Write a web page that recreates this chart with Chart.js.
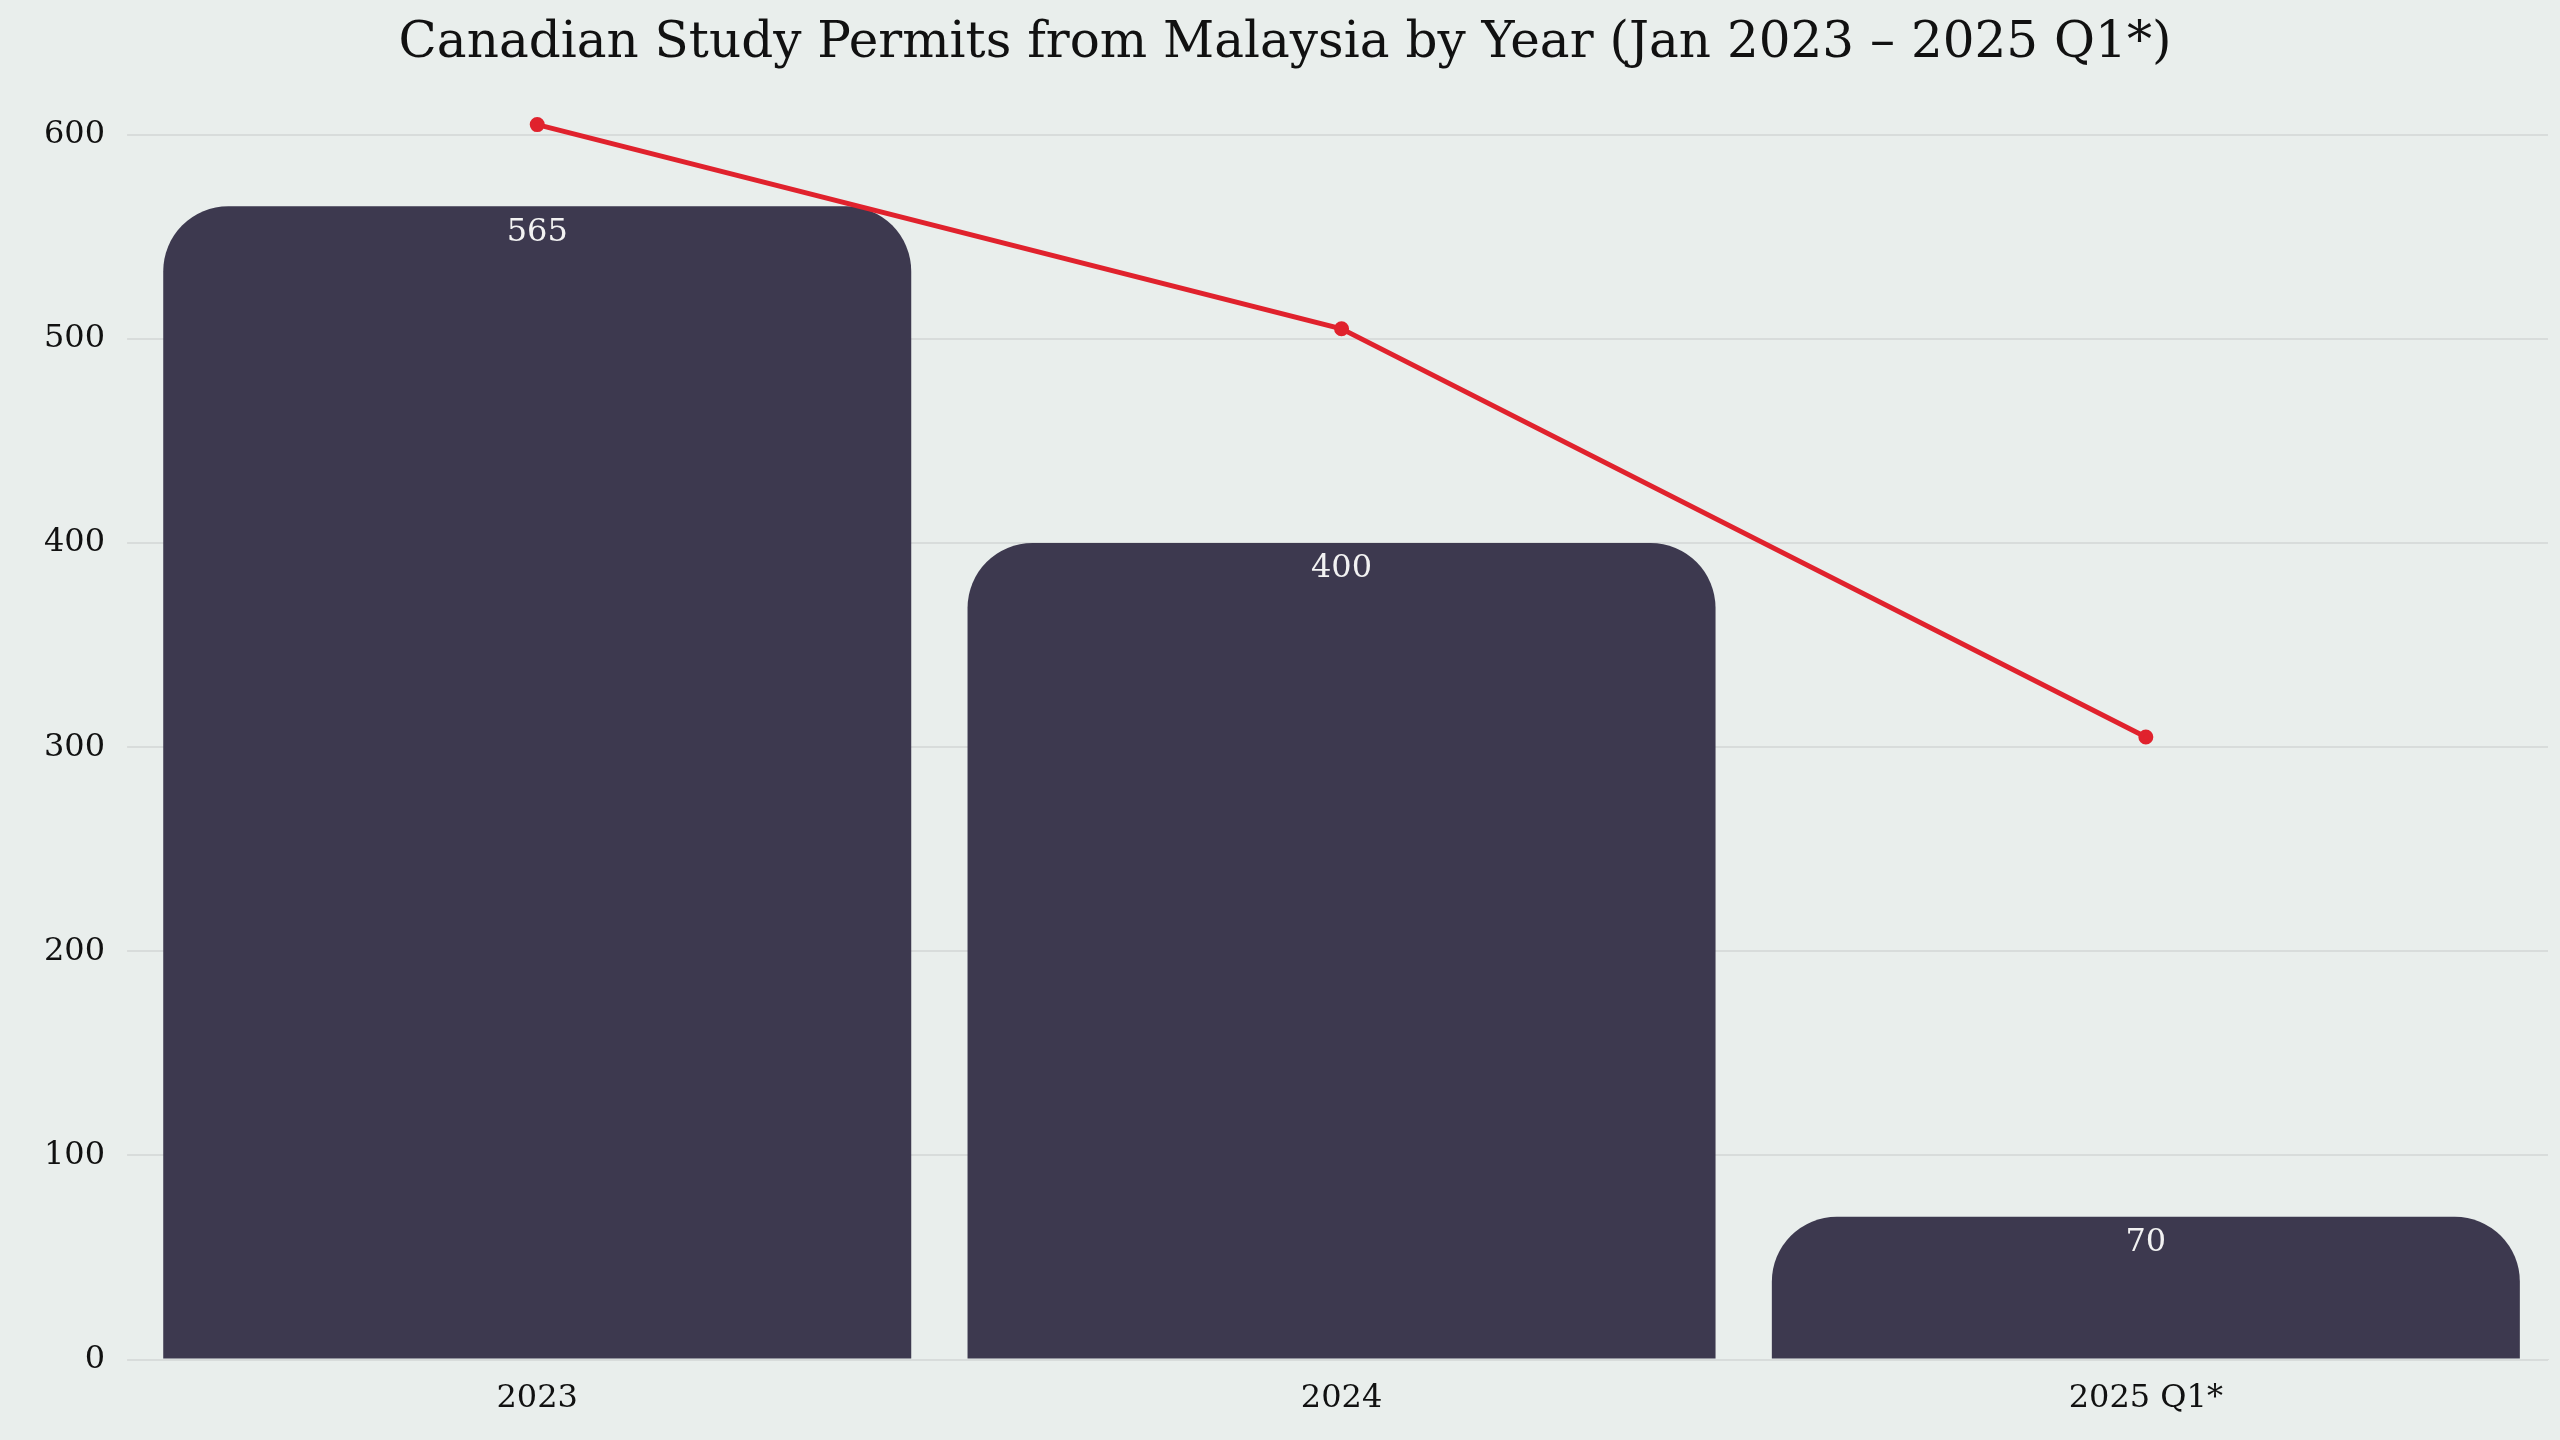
<!DOCTYPE html>
<html>
<head>
<meta charset="utf-8">
<script src="https://cdn.jsdelivr.net/npm/chart.js@4"></script>
<style>
  html, body { margin: 0; padding: 0; background: #e9eeec; }
  #wrap { width: 2560px; height: 1440px; }
</style>
</head>
<body>
<div id="wrap"><canvas id="permitChart"></canvas></div>
<script>
// data
const years = ['2023', '2024', '2025 Q1*'];
const permits = [565, 400, 70];
const trend = [605, 505, 305];
const yTicks = [0, 100, 200, 300, 400, 500, 600];

const serif = "'DejaVu Serif', 'Liberation Serif', serif";

// value labels inside top of each bar
const barLabels = {
  id: 'barLabels',
  afterDatasetsDraw(chart) {
    const ctx = chart.ctx;
    const meta = chart.getDatasetMeta(1);
    ctx.save();
    ctx.fillStyle = '#f2f2f2';
    ctx.font = "32px " + serif;
    ctx.textAlign = 'center';
    ctx.textBaseline = 'top';
    meta.data.forEach((bar, i) => {
      ctx.fillText(permits[i], bar.x, bar.y + 10);
    });
    ctx.restore();
  }
};

var permitChart = document.getElementById("permitChart");
const chart = new Chart(permitChart, {
  data: {
    labels: years,
    datasets: [{
      type: 'line',
      data: trend,
      borderColor: '#e0222d',
      backgroundColor: '#e0222d',
      borderWidth: 5,
      pointRadius: 5,
      tension: 0,
      clip: false,
      order: 0
    }, {
      type: 'bar',
      data: permits,
      backgroundColor: '#3d394f',
      borderRadius: { topLeft: 65, topRight: 65 },
      borderSkipped: 'bottom',
      categoryPercentage: 0.93,
      barPercentage: 1,
      order: 1
    }]
  },
  options: {
    responsive: true,
    maintainAspectRatio: false,
    devicePixelRatio: 1,
    animation: false,
    layout: { padding: { left: 22, right: 12, top: 0, bottom: 10 } },
    plugins: {
      legend: { display: false },
      tooltip: { enabled: false },
      title: {
        display: true,
        text: 'Canadian Study Permits from Malaysia by Year (Jan 2023 \u2013 2025 Q1*)',
        color: '#111',
        font: { family: serif, size: 50, weight: 'normal' },
        padding: { top: 14, bottom: 20 }
      }
    },
    scales: {
      x: {
        grid: { display: false },
        border: { display: true, color: '#d8dcdb' },
        ticks: { color: '#111', font: { family: serif, size: 32 }, padding: 12 }
      },
      y: {
        min: 0,
        max: 620,
        afterBuildTicks(axis) { axis.ticks = yTicks.map(v => ({ value: v })); },
        grid: { color: '#d8dcdb', lineWidth: 2 },
        border: { display: false },
        ticks: { color: '#111', font: { family: serif, size: 32 }, padding: 22 }
      }
    }
  },
  plugins: [barLabels]
});
</script>
</body>
</html>
